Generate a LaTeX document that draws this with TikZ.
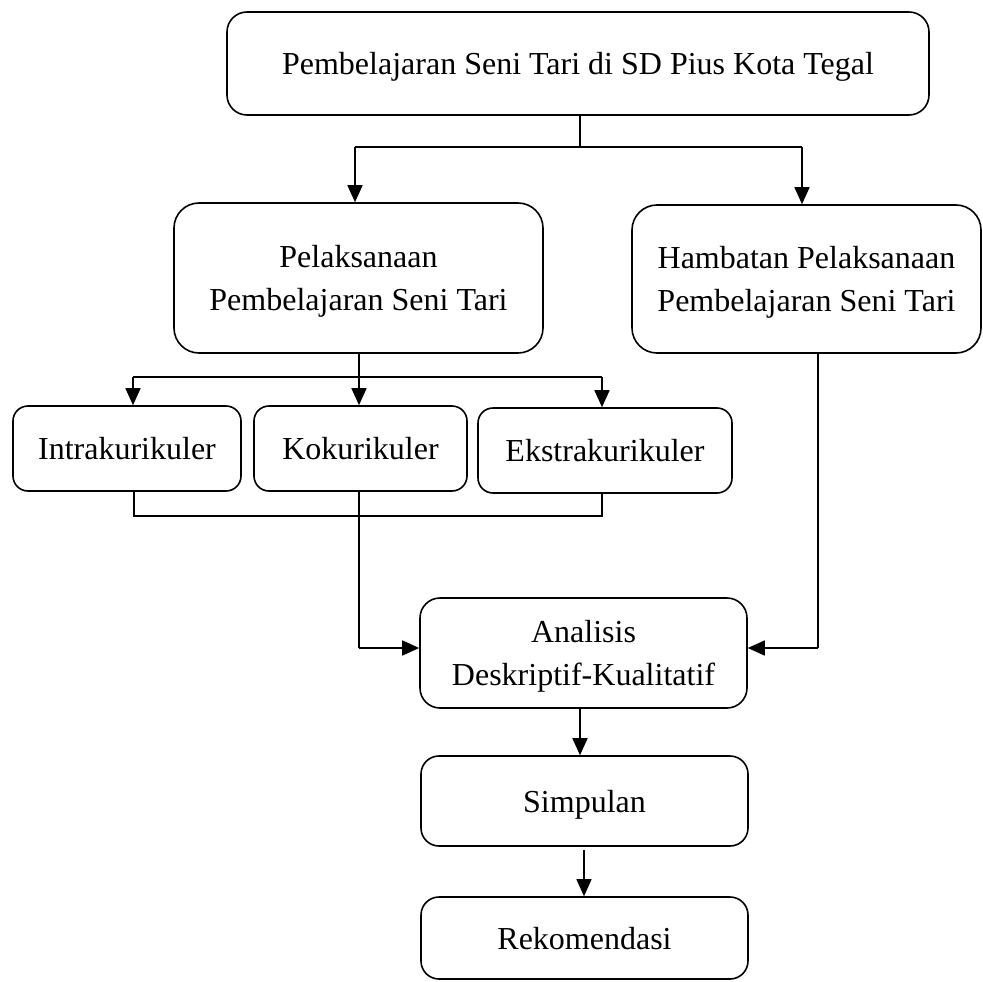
\documentclass[tikz,border=0pt]{standalone}
\usepackage{fontspec}
\setmainfont{Liberation Serif}
\usetikzlibrary{arrows.meta}
\begin{document}
\begin{tikzpicture}[x=1pt,y=-1pt,
  box/.style={draw,line width=1.6pt,rectangle,inner sep=0pt,align=center,text depth=0pt,
    font=\fontsize{32}{43}\selectfont},
  line/.style={line width=1.6pt},
  arr/.style={line width=1.6pt,-{Triangle[width=15pt,length=17pt]}}]
\useasboundingbox (0,0) rectangle (983,982);
\node[box,rounded corners=20pt,minimum width=702pt,minimum height=103pt] (top) at (578,63.5) {Pembelajaran Seni Tari di SD Pius Kota Tegal};
\node[box,rounded corners=25pt,minimum width=369pt,minimum height=150pt] (pel) at (358.5,278) {Pelaksanaan\\Pembelajaran Seni Tari};
\node[box,rounded corners=25pt,minimum width=349pt,minimum height=148pt] (ham) at (806.5,279) {Hambatan Pelaksanaan\\Pembelajaran Seni Tari};
\node[box,rounded corners=15pt,minimum width=228pt,minimum height=85pt] (intra) at (127,448.5) {Intrakurikuler};
\node[box,rounded corners=15pt,minimum width=213pt,minimum height=85pt] (koku) at (360.5,448.5) {Kokurikuler};
\node[box,rounded corners=15pt,minimum width=254pt,minimum height=85pt] (ekstra) at (605,450.5) {Ekstrakurikuler};
\node[box,rounded corners=20pt,minimum width=327pt,minimum height=110pt] (ana) at (583.5,653) {Analisis\\Deskriptif-Kualitatif};
\node[box,rounded corners=18pt,minimum width=327pt,minimum height=90pt] (simp) at (584.5,801) {Simpulan};
\node[box,rounded corners=18pt,minimum width=327pt,minimum height=82pt] (rek) at (584.5,938) {Rekomendasi};
% junctions
\coordinate (j1) at (580,147);
\coordinate (jl) at (355,147);
\coordinate (jr) at (802,147);
\coordinate (j2) at (359,377);
\coordinate (j2l) at (133,377);
\coordinate (j2r) at (602,377);
\coordinate (b1) at (134,516);
\coordinate (b2) at (602,516);
\coordinate (kx) at (359,648);
\coordinate (hx) at (818,648);
% top split
\draw[line] (j1 |- top.south) -- (j1);
\draw[line] (jl) -- (jr);
\draw[arr] (jl) -- (jl |- pel.north);
\draw[arr] (jr) -- (jr |- ham.north);
% pelaksanaan split
\draw[line] (j2 |- pel.south) -- (j2);
\draw[line] (j2l) -- (j2r);
\draw[arr] (j2l) -- (j2l |- intra.north);
\draw[arr] (j2) -- (j2 |- koku.north);
\draw[arr] (j2r) -- (j2r |- ekstra.north);
% bracket under intra/ekstra
\draw[line] (b1 |- intra.south) -- (b1) -- (b2) -- (b2 |- ekstra.south);
% to analisis
\draw[line] (kx |- koku.south) -- (kx);
\draw[arr] (kx) -- (ana.west |- kx);
\draw[line] (hx |- ham.south) -- (hx);
\draw[arr] (hx) -- (ana.east |- hx);
% bottom chain
\draw[arr] (580,0 |- ana.south) -- (580,0 |- simp.north);
\draw[arr] (584,0 |- simp.south) ++(0,3) -- (584,0 |- rek.north);
\end{tikzpicture}
\end{document}
